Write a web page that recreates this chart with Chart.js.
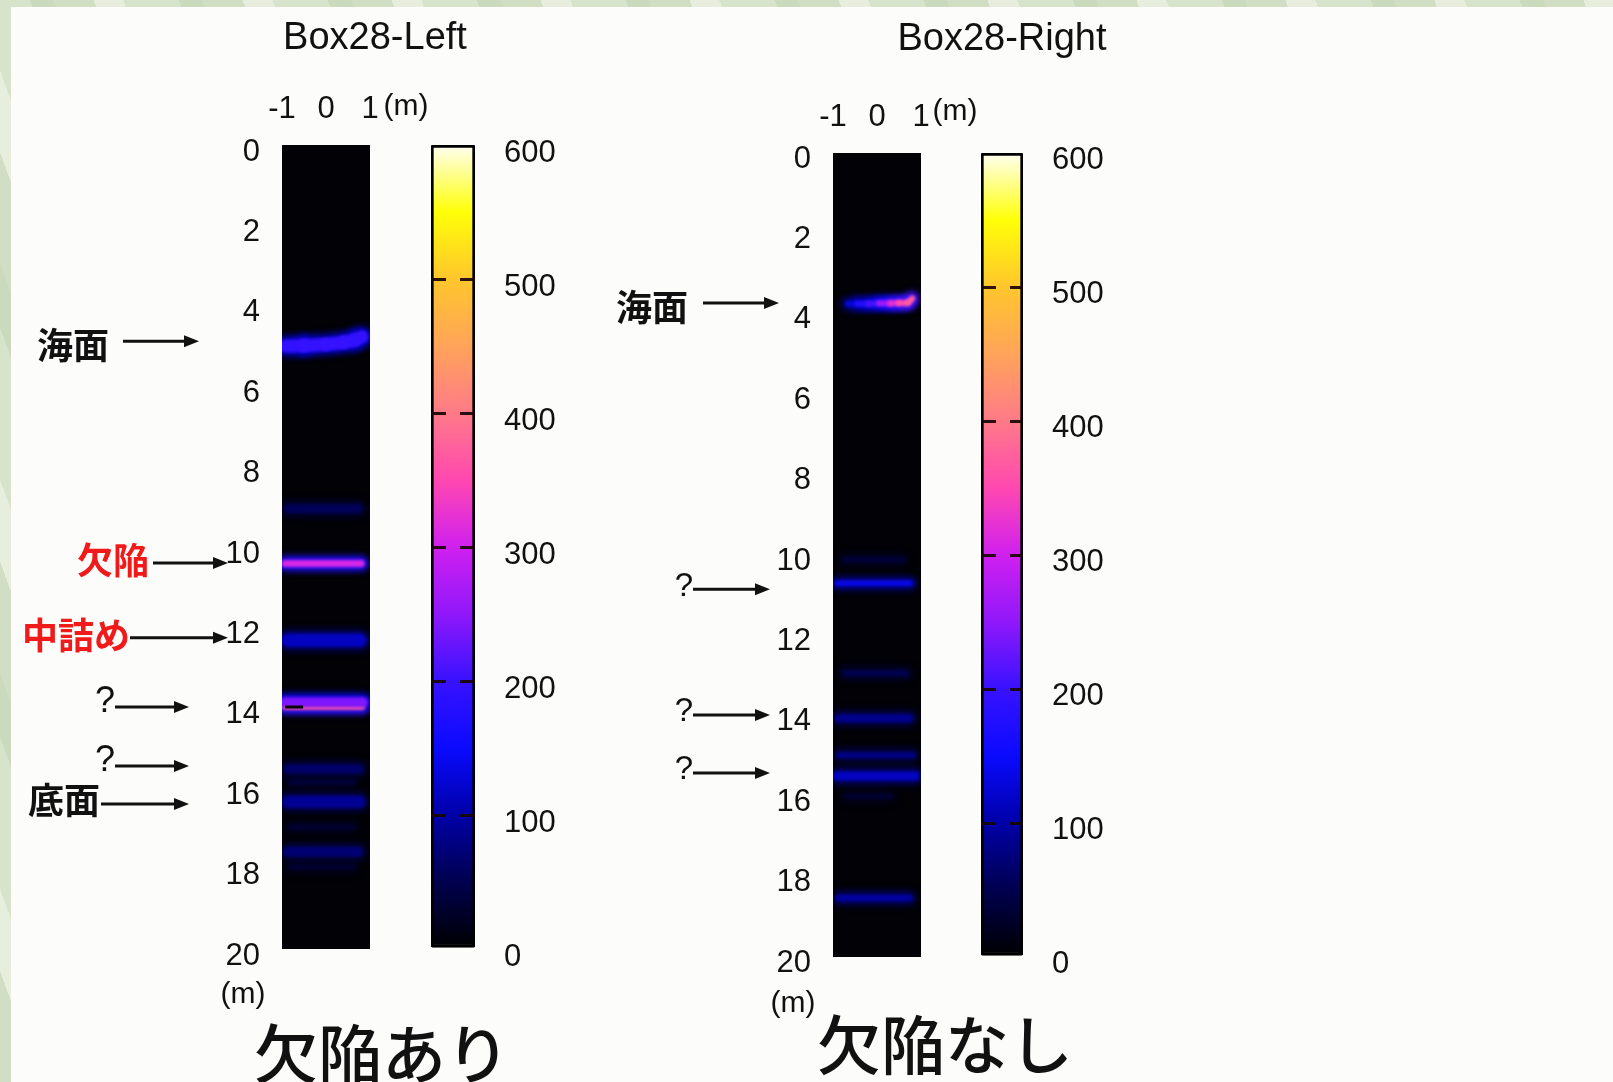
<!DOCTYPE html>
<html lang="ja">
<head>
<meta charset="utf-8">
<title>Box28 探査断面</title>
<script src="https://cdn.jsdelivr.net/npm/chart.js@4.4.1/dist/chart.umd.min.js"></script>
<style>
  html, body { margin: 0; padding: 0; }
  body {
    position: relative; width: 1613px; height: 1082px; overflow: hidden;
    background-color: #dbe5cf;
    background-image: repeating-linear-gradient(70deg, #d2dec4 0 38px, #e7eede 38px 66px, #d8e3cb 66px 118px, #cbd9bc 118px 140px);
  }
  #sheet { position: absolute; left: 11px; top: 7px; right: 0; bottom: 0; background: #fcfdfb; }
  canvas { position: absolute; top: 0; }
  .lbl { position: absolute; transform: translate(-50%, -50%); white-space: nowrap; line-height: 1; color: #111;
         font-family: "Liberation Sans", Arial, sans-serif; }
  .title { font-size: 38px; }
  .unit { font-size: 30px; }
  .caption { font-family: "Noto Sans CJK JP", sans-serif; font-size: 64px; font-weight: 500; }
</style>
</head>
<body>
<div id="sheet"></div>
<canvas id="leftProfile" width="400" height="1082" style="left:0"></canvas>
<canvas id="leftScale" width="180" height="1082" style="left:420px"></canvas>
<canvas id="rightProfile" width="400" height="1082" style="left:560px"></canvas>
<canvas id="rightScale" width="180" height="1082" style="left:970px"></canvas>

<div class="lbl title" style="left:375px; top:36px">Box28-Left</div>
<div class="lbl title" style="left:1002px; top:37px">Box28-Right</div>
<div class="lbl unit" style="left:406px; top:105px">(m)</div>
<div class="lbl unit" style="left:955px; top:110px">(m)</div>
<div class="lbl unit" style="left:243px; top:993px">(m)</div>
<div class="lbl unit" style="left:793px; top:1002px">(m)</div>
<div class="lbl caption" style="left:382px; top:1050px">欠陥あり</div>
<div class="lbl caption" style="left:945px; top:1041px">欠陥なし</div>

<script>
// ---------- axes ----------
const depthTicks   = [0, 2, 4, 6, 8, 10, 12, 14, 16, 18, 20];   // depth (m)
const lateralTicks = [-1, 0, 1];                                 // lateral offset (m)
const ampTicks     = [0, 100, 200, 300, 400, 500, 600];          // amplitude

// ---------- colour map: amplitude -> colour ----------
const cmapStops  = [0, 50, 100, 150, 200, 250, 300, 350, 400, 450, 500, 550, 600];
const cmapColors = ['#000000', '#00004e', '#0000a8', '#0a0aff', '#3812ff', '#9018fa', '#d020f0',
                    '#ff48b0', '#ff7a88', '#ffa45a', '#ffc62c', '#ffff08', '#fffff2'];

// ---------- Box28-Left reflections ----------
const leftSurfaceX     = [-0.93, -0.5, 0, 0.4, 0.65, 0.82];
const leftSurfaceDepth = [5.0, 4.99, 4.96, 4.91, 4.85, 4.77];
const leftSurfaceAmp   = [192, 196, 198, 198, 196, 192];

const leftBandDepth = [9.05, 10.41, 12.32, 13.86, 13.98, 15.52, 15.85, 16.34, 16.97, 17.58, 17.96];
const leftBandAmp   = [55, 310, 115, 240, 365, 65, 35, 88, 30, 70, 30];
const leftBandFrom  = [-0.86, -0.93, -0.86, -0.93, -0.93, -0.86, -0.8, -0.86, -0.8, -0.86, -0.8];
const leftBandTo    = [0.73, 0.80, 0.77, 0.84, 0.82, 0.75, 0.6, 0.75, 0.6, 0.72, 0.6];

const leftMarkX     = [-0.93, -0.52];
const leftMarkDepth = [13.98, 13.98];

const leftNoteText  = ['海面', '欠陥', '中詰め', '?', '?', '底面'];
const leftNoteDepth = [4.88, 10.4, 12.26, 13.98, 15.45, 16.39];

// ---------- Box28-Right reflections ----------
const rightSurfaceX     = [-0.66, -0.45, -0.2, 0.05, 0.3, 0.5, 0.7, 0.8];
const rightSurfaceDepth = [3.75, 3.75, 3.75, 3.74, 3.74, 3.73, 3.72, 3.62];
const rightSurfaceAmp   = [95, 160, 190, 225, 300, 345, 365, 375];

const rightBandDepth = [10.12, 10.7, 12.94, 14.06, 14.98, 15.5, 16.0, 18.53];
const rightBandAmp   = [38, 135, 50, 85, 80, 115, 32, 95];
const rightBandFrom  = [-0.73, -0.9, -0.73, -0.86, -0.86, -0.9, -0.7, -0.86];
const rightBandTo    = [0.57, 0.75, 0.65, 0.73, 0.8, 0.86, 0.3, 0.73];

const rightNoteText  = ['海面', '?', '?', '?'];
const rightNoteDepth = [3.73, 10.85, 13.98, 15.42];

// ---------- styling ----------
const leftSurfaceWidth = 13;
const leftBandWidth    = [9, 7, 13, 10, 6, 9, 6, 12, 6, 10, 6];
const rightSurfaceWidth = 6;
const rightBandWidth   = [5, 6, 6, 8, 6, 9, 5, 7];

const leftNoteStyle = {
  offsetX: 0,
  color:     ['#111', '#f01a1a', '#f01a1a', '#111', '#111', '#111'],
  tail:      [123, 153, 130, 115, 115, 101],
  tip:       [199, 228, 228, 189, 189, 189],
  textRight: [109, 149, 130, 115, 115, 100],
  dy:        [4, -3, -3, -5, -5, -4],
  qSize: 36
};
const rightNoteStyle = {
  offsetX: 560,
  color:     ['#111', '#111', '#111', '#111'],
  tail:      [703, 693, 693, 693],
  tip:       [779, 770, 770, 770],
  textRight: [688, 693, 693, 693],
  dy:        [4, -2, -3, -3],
  qSize: 33
};

Chart.defaults.font.family = '"Liberation Sans", Arial, sans-serif';
Chart.defaults.color = '#111';

// ---------- helpers ----------
const cmapRgb = cmapColors.map(h => { const n = parseInt(h.slice(1), 16); return [n >> 16 & 255, n >> 8 & 255, n & 255]; });
function ampColor(a) {
  const lo = cmapStops[0], hi = cmapStops[cmapStops.length - 1];
  const v = Math.max(lo, Math.min(hi, a));
  let i = 0;
  while (i < cmapStops.length - 2 && v > cmapStops[i + 1]) i++;
  const t = (v - cmapStops[i]) / (cmapStops[i + 1] - cmapStops[i]);
  const c = cmapRgb[i].map((c0, k) => Math.round(c0 + (cmapRgb[i + 1][k] - c0) * t));
  return `rgb(${c[0]},${c[1]},${c[2]})`;
}

// one reflection = a soft halo plus a brighter core
function reflection(xs, depths, amps, width) {
  const pts = xs.map((x, i) => ({ x, y: depths[i] }));
  const seg = k => ({ borderColor: c => ampColor((amps[c.p0DataIndex] + amps[c.p1DataIndex]) / 2 * k) });
  return [
    { data: pts, borderWidth: width + 8, borderColor: ampColor(amps[0] * 0.55), segment: seg(0.55), blur: 3, order: 2 },
    { data: pts, borderWidth: width, borderColor: ampColor(amps[0]), segment: seg(1), blur: 1.5, order: 1 }
  ];
}
function flatBands(depth, amp, from, to, widths) {
  return depth.flatMap((d, i) => reflection([from[i], to[i]], [d, d], [amp[i], amp[i]], widths[i]));
}

// ---------- plugins ----------
const softLines = {
  id: 'softLines',
  beforeDatasetDraw(chart, args) {
    const ds = chart.data.datasets[args.index];
    chart.ctx.save();
    if (ds.blur) chart.ctx.filter = `blur(${ds.blur}px)`;
  },
  afterDatasetDraw(chart) { chart.ctx.restore(); }
};
const darkColumn = {
  id: 'darkColumn',
  beforeDatasetsDraw(chart) {
    const a = chart.chartArea, ctx = chart.ctx;
    ctx.save();
    ctx.fillStyle = '#010106';
    ctx.fillRect(a.left, a.top, a.right - a.left, a.bottom - a.top);
    ctx.restore();
  }
};
function notePlugin(texts, depths, st) {
  return {
    id: 'notes',
    afterDraw(chart) {
      const ctx = chart.ctx, y = chart.scales.y;
      texts.forEach((t, i) => {
        const py = y.getPixelForValue(depths[i]);
        const tail = st.tail[i] - st.offsetX, tip = st.tip[i] - st.offsetX, tr = st.textRight[i] - st.offsetX;
        ctx.save();
        ctx.strokeStyle = '#111'; ctx.fillStyle = '#111'; ctx.lineWidth = 3;
        ctx.beginPath(); ctx.moveTo(tail, py); ctx.lineTo(tip - 12, py); ctx.stroke();
        ctx.beginPath(); ctx.moveTo(tip, py); ctx.lineTo(tip - 15, py - 6); ctx.lineTo(tip - 15, py + 6); ctx.closePath(); ctx.fill();
        const q = t === '?';
        ctx.font = q ? `${st.qSize}px "Liberation Sans", Arial, sans-serif` : 'bold 36px "Noto Sans CJK JP", sans-serif';
        ctx.fillStyle = st.color[i];
        ctx.textAlign = 'right';
        ctx.textBaseline = 'middle';
        ctx.fillText(t, tr, py + st.dy[i]);
        ctx.restore();
      });
    }
  };
}

// ---------- charts ----------
function profileChart(id, datasets, pad, notes, xPad, yShift) {
  return new Chart(document.getElementById(id), {
    type: 'line',
    data: { datasets },
    options: {
      responsive: false, animation: false, events: [],
      layout: { padding: pad },
      plugins: { legend: { display: false }, tooltip: { enabled: false } },
      elements: { point: { radius: 0 }, line: { tension: 0.3, borderCapStyle: 'round', fill: false } },
      scales: {
        x: {
          type: 'linear', position: 'top', min: -1, max: 1,
          afterBuildTicks: a => { a.ticks = lateralTicks.map(value => ({ value })); },
          afterFit: a => { a.height = 50; },
          grid: { display: false, drawTicks: false }, border: { display: false },
          ticks: { padding: xPad, font: { size: 31 }, color: '#111', maxRotation: 0, autoSkip: false }
        },
        y: {
          type: 'linear', reverse: true, min: 0, max: 20,
          afterBuildTicks: a => { a.ticks = depthTicks.map(value => ({ value })); },
          afterFit: a => { a.width = 60; },
          grid: { display: false, drawTicks: false }, border: { display: false },
          ticks: { padding: 22, labelOffset: yShift, font: { size: 31 }, color: '#111', autoSkip: false }
        }
      }
    },
    plugins: [darkColumn, softLines, notes]
  });
}

function scaleChart(id, pad, yShift) {
  const top = ampTicks[ampTicks.length - 1];
  return new Chart(document.getElementById(id), {
    type: 'bar',
    data: {
      labels: [''],
      datasets: [{
        data: [top],
        backgroundColor: c => {
          const chart = c.chart;
          if (!chart.chartArea) return '#000';
          const ys = chart.scales.y;
          const g = chart.ctx.createLinearGradient(0, ys.getPixelForValue(0), 0, ys.getPixelForValue(top));
          cmapStops.forEach((v, i) => g.addColorStop(v / top, cmapColors[i]));
          return g;
        },
        borderColor: '#000', borderWidth: 3, borderSkipped: false, borderRadius: 2,
        barPercentage: 1, categoryPercentage: 1
      }]
    },
    options: {
      responsive: false, animation: false, events: [],
      layout: { padding: pad },
      plugins: { legend: { display: false }, tooltip: { enabled: false } },
      scales: {
        x: { display: false },
        y: {
          position: 'right', min: 0, max: top,
          afterBuildTicks: a => { a.ticks = ampTicks.map(value => ({ value })); },
          afterFit: a => { a.width = 110; },
          grid: {
            z: 1,
            color: c => (c.tick && (c.tick.value === 0 || c.tick.value === top)) ? 'rgba(0,0,0,0)' : 'rgba(25,4,4,0.92)',
            lineWidth: 3, drawTicks: false
          },
          border: { display: false, dash: [15, 14] },
          ticks: { padding: 29, labelOffset: yShift, font: { size: 31 }, color: '#111', autoSkip: false }
        }
      }
    }
  });
}

const leftSets = [
  ...reflection(leftSurfaceX, leftSurfaceDepth, leftSurfaceAmp, leftSurfaceWidth),
  ...flatBands(leftBandDepth, leftBandAmp, leftBandFrom, leftBandTo, leftBandWidth),
  { data: leftMarkX.map((x, i) => ({ x, y: leftMarkDepth[i] })), borderColor: '#050505', borderWidth: 3,
    borderCapStyle: 'butt', tension: 0, order: 0 }
];
const rightSets = [
  ...reflection(rightSurfaceX, rightSurfaceDepth, rightSurfaceAmp, rightSurfaceWidth),
  ...flatBands(rightBandDepth, rightBandAmp, rightBandFrom, rightBandTo, rightBandWidth)
];

profileChart('leftProfile', leftSets, { left: 222, right: 30, top: 95, bottom: 133 },
  notePlugin(leftNoteText, leftNoteDepth, leftNoteStyle), 17, 7);
profileChart('rightProfile', rightSets, { left: 213, right: 39, top: 103, bottom: 125 },
  notePlugin(rightNoteText, rightNoteDepth, rightNoteStyle), 17, 6);
scaleChart('leftScale', { left: 11, right: 15, top: 145, bottom: 133 }, 8);
scaleChart('rightScale', { left: 11, right: 17, top: 153, bottom: 125 }, 7);
</script>
</body>
</html>
